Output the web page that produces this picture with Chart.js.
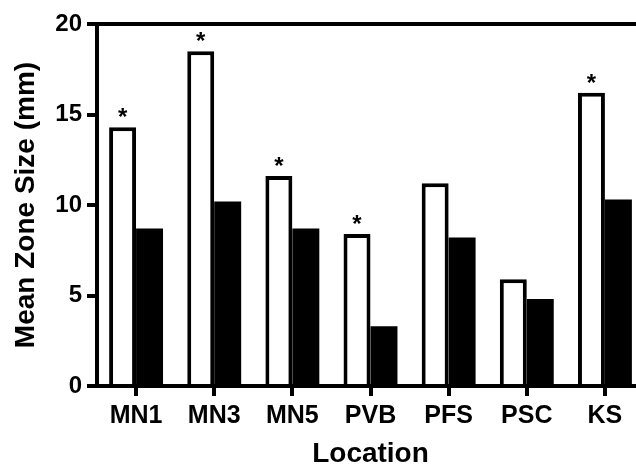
<!DOCTYPE html>
<html>
<head>
<meta charset="utf-8">
<script src="https://cdn.jsdelivr.net/npm/chart.js@4"></script>
<style>
  html, body { margin: 0; padding: 0; background: #fff; overflow: hidden; }
  #wrap { position: relative; width: 648px; height: 467px; }
</style>
</head>
<body>
<div id="wrap"><canvas id="myChart"></canvas></div>
<script>
// zone sizes per location (mm)
const locations = ['MN1', 'MN3', 'MN5', 'PVB', 'PFS', 'PSC', 'KS'];
const openBars = [14.3, 18.5, 11.6, 8.4, 11.2, 5.9, 16.2];
const filledBars = [8.7, 10.2, 8.7, 3.3, 8.2, 4.8, 10.3];
const significant = [true, true, true, true, false, false, true];
const yTicks = [0, 5, 10, 15, 20];

Chart.defaults.font.family = '"Liberation Sans", Arial, sans-serif';
Chart.defaults.font.weight = 'bold';
Chart.defaults.color = '#000';

// asterisks over the open bars
const stars = {
    id: 'stars',
    afterDatasetsDraw(chart) {
        const ctx = chart.ctx;
        const meta = chart.getDatasetMeta(0);
        ctx.save();
        ctx.font = 'bold 24px "Liberation Sans", Arial, sans-serif';
        ctx.fillStyle = '#000';
        ctx.textAlign = 'center';
        ctx.textBaseline = 'alphabetic';
        meta.data.forEach((bar, i) => {
            if (significant[i]) ctx.fillText('*', bar.x, bar.y - 2);
        });
        ctx.restore();
    }
};

const ctx = document.getElementById('myChart').getContext('2d');
const myChart = new Chart(ctx, {
    type: 'bar',
    data: {
        labels: locations,
        datasets: [{
            data: openBars,
            backgroundColor: '#fff',
            borderColor: '#000',
            borderWidth: 4
        }, {
            data: filledBars,
            backgroundColor: '#000',
            borderColor: '#000',
            borderWidth: 0
        }]
    },
    options: {
        responsive: true,
        maintainAspectRatio: false,
        animation: false,
        layout: { padding: { right: 4 } },
        categoryPercentage: 0.69,
        barPercentage: 1.0,
        plugins: {
            legend: { display: false },
            tooltip: { enabled: false }
        },
        scales: {
            x: {
                z: 1,
                grid: {
                    offset: false,
                    drawOnChartArea: false,
                    tickLength: 10,
                    lineWidth: 4,
                    color: '#000'
                },
                border: { color: '#000', width: 4 },
                ticks: { font: { size: 25 }, padding: 5, maxRotation: 0 },
                title: {
                    display: true,
                    text: 'Location',
                    font: { size: 28, lineHeight: 0.9 },
                    padding: { top: 0, bottom: 0 }
                },
                afterFit(scale) { scale.height = 81; }
            },
            xTop: {
                type: 'category',
                position: 'top',
                grid: { display: false },
                ticks: { display: false },
                border: { color: '#000', width: 4 },
                afterFit(scale) { scale.height = 24; }
            },
            y: {
                min: 0,
                max: 20,
                afterBuildTicks(scale) {
                    scale.ticks = yTicks.map(v => ({ value: v }));
                },
                grid: {
                    drawOnChartArea: false,
                    tickLength: 10,
                    lineWidth: 4,
                    color: '#000'
                },
                border: { color: '#000', width: 4 },
                ticks: { font: { size: 24 }, padding: 5 },
                title: {
                    display: true,
                    text: 'Mean Zone Size (mm)',
                    font: { size: 28, lineHeight: 0.9 },
                    padding: { top: 14, bottom: 0 }
                },
                afterFit(scale) { scale.width = 97; }
            }
        }
    },
    plugins: [stars]
});
</script>
</body>
</html>
